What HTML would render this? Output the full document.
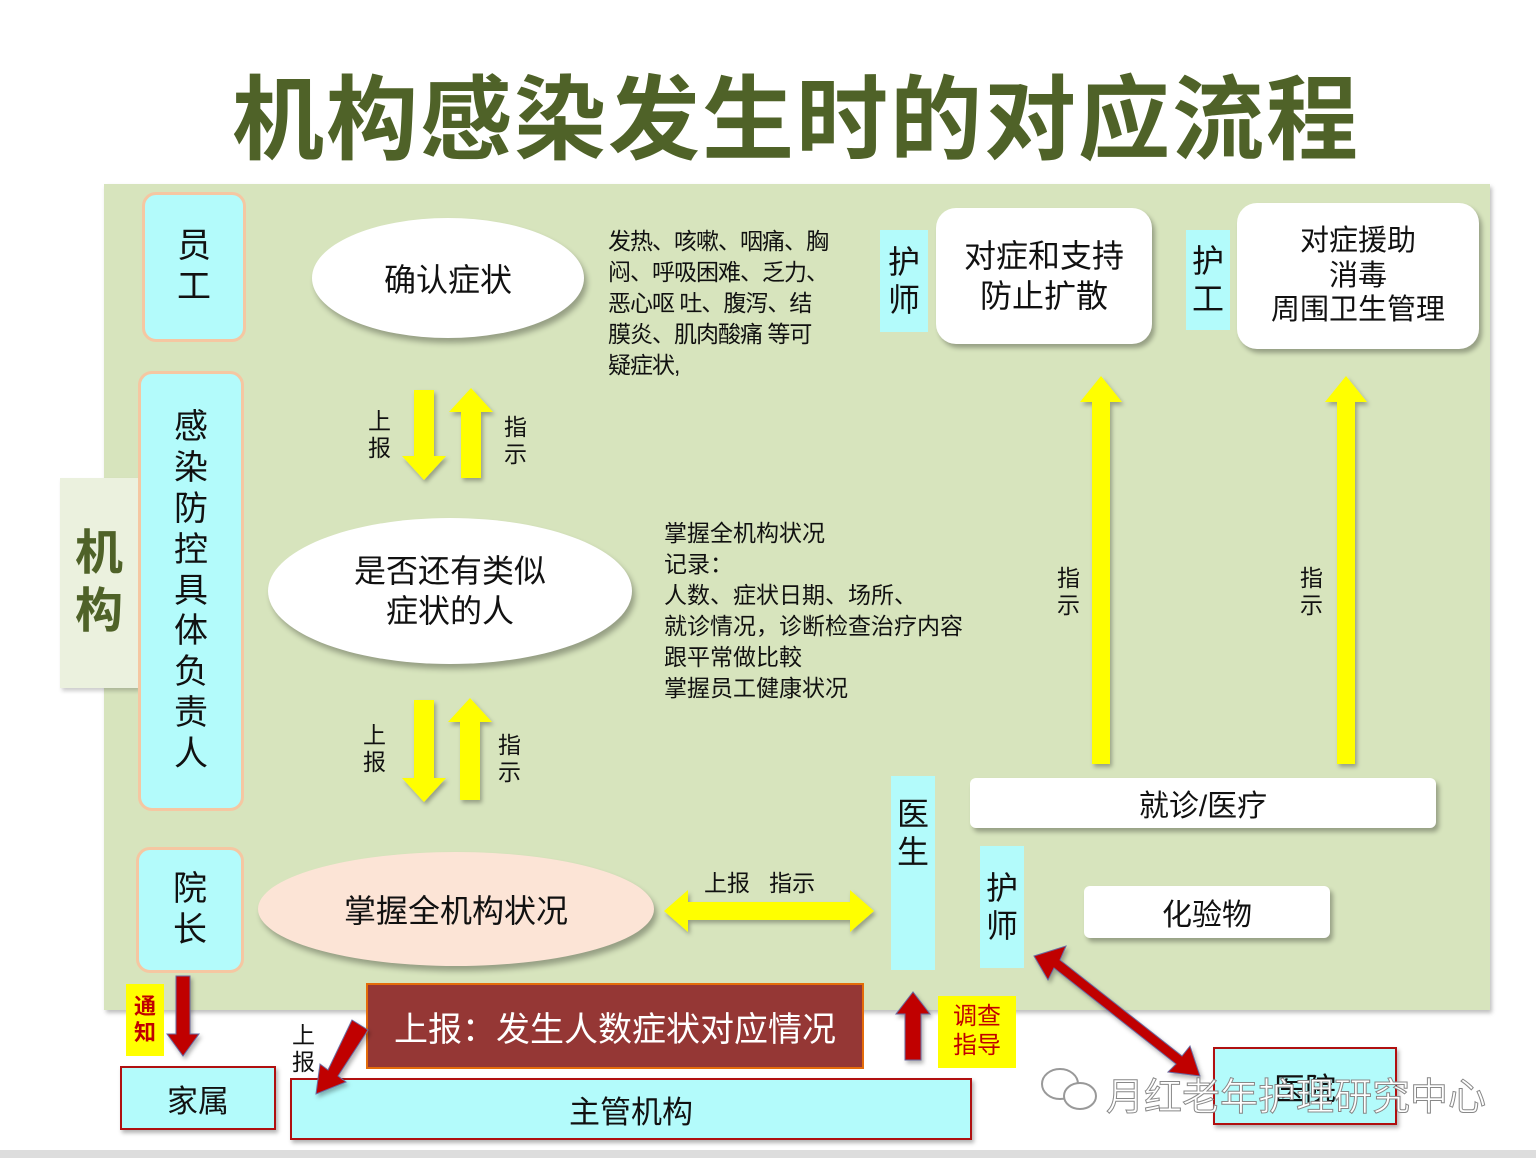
<!DOCTYPE html>
<html><head><meta charset="utf-8"><style>
*{margin:0;padding:0;box-sizing:border-box}
body{width:1536px;height:1158px;background:#fff;position:relative;overflow:hidden;font-family:"Liberation Sans","Noto Sans CJK SC",sans-serif;color:#111}
.a{position:absolute}
.c{display:flex;align-items:center;justify-content:center;text-align:center}
.cy{background:#b3fbfb}
.rb{border:3px solid #f5c7a2;border-radius:14px;background:#b3fbfb;font-size:34px;line-height:1.2}
.wb{background:#fff;border-radius:20px;box-shadow:3px 4px 5px rgba(0,0,0,.3)}
.el{border-radius:50%;box-shadow:3px 5px 6px rgba(0,0,0,.3)}
.red{border:2px solid #b01010;background:#b3fbfb;box-shadow:2px 3px 4px rgba(0,0,0,.3)}
</style></head><body>
<div class="a" style="left:0;top:1150px;width:1536px;height:8px;background:#ddd"></div>
<div class="a" style="left:232px;top:46px;font-size:92px;font-weight:bold;color:#4f6228;letter-spacing:2px;white-space:nowrap">机构感染发生时的对应流程</div>
<div class="a" style="left:104px;top:184px;width:1386px;height:826px;background:#d7e4bd;box-shadow:2px 3px 4px rgba(0,0,0,.25)"></div>
<div class="a c" style="left:60px;top:478px;width:78px;height:210px;background:#ebf1de;color:#4f6228;font-size:48px;font-weight:bold;line-height:1.2;box-shadow:2px 3px 4px rgba(0,0,0,.2)">机<br>构</div>
<div class="a c rb" style="left:142px;top:192px;width:104px;height:150px">员<br>工</div>
<div class="a c rb" style="left:138px;top:371px;width:106px;height:440px;line-height:1.2">感<br>染<br>防<br>控<br>具<br>体<br>负<br>责<br>人</div>
<div class="a c rb" style="left:136px;top:847px;width:108px;height:126px">院<br>长</div>
<div class="a c el" style="left:312px;top:218px;width:272px;height:120px;background:#fff;font-size:32px">确认症状</div>
<div class="a c el" style="left:268px;top:518px;width:364px;height:146px;background:#fff;font-size:32px;line-height:1.25">是否还有类似<br>症状的人</div>
<div class="a c el" style="left:258px;top:852px;width:396px;height:114px;background:#fce4d6;font-size:32px">掌握全机构状况</div>
<div class="a" style="left:608px;top:226px;font-size:23px;line-height:31px;white-space:nowrap;letter-spacing:-1px">发热、咳嗽、咽痛、胸<br>闷、呼吸困难、乏力、<br>恶心呕 吐、腹泻、结<br>膜炎、肌肉酸痛 等可<br>疑症状,</div>
<div class="a" style="left:664px;top:518px;font-size:23px;line-height:31px;white-space:nowrap">掌握全机构状况<br>记录：<br>人数、症状日期、场所、<br>就诊情况，诊断检查治疗内容<br>跟平常做比較<br>掌握员工健康状况</div>
<div class="a c cy" style="left:880px;top:230px;width:48px;height:102px;font-size:32px;line-height:1.2">护<br>师</div>
<div class="a c wb" style="left:936px;top:208px;width:216px;height:136px;font-size:32px;line-height:1.25">对症和支持<br>防止扩散</div>
<div class="a c cy" style="left:1186px;top:230px;width:44px;height:100px;font-size:32px;line-height:1.2">护<br>工</div>
<div class="a c wb" style="left:1237px;top:203px;width:242px;height:146px;font-size:29px;line-height:1.2">对症援助<br>消毒<br>周围卫生管理</div>
<div class="a c wb" style="left:970px;top:778px;width:466px;height:50px;border-radius:6px;font-size:30px">就诊/医疗</div>
<div class="a c wb" style="left:1084px;top:886px;width:246px;height:52px;border-radius:6px;font-size:30px">化验物</div>
<div class="a c cy" style="left:891px;top:776px;width:44px;height:194px;font-size:32px;line-height:1.2;padding-bottom:80px">医<br>生</div>
<div class="a c cy" style="left:980px;top:846px;width:44px;height:122px;font-size:32px;line-height:1.2">护<br>师</div>
<div class="a" style="left:704px;top:864px;font-size:23px;white-space:nowrap">上报&nbsp;&nbsp;&nbsp;指示</div>
<div class="a" style="left:368px;top:408px;font-size:23px;line-height:27px">上<br>报</div>
<div class="a" style="left:504px;top:414px;font-size:23px;line-height:27px">指<br>示</div>
<div class="a" style="left:363px;top:722px;font-size:23px;line-height:27px">上<br>报</div>
<div class="a" style="left:498px;top:732px;font-size:23px;line-height:27px">指<br>示</div>
<div class="a" style="left:1057px;top:565px;font-size:23px;line-height:27px">指<br>示</div>
<div class="a" style="left:1300px;top:565px;font-size:23px;line-height:27px">指<br>示</div>
<div class="a c" style="left:366px;top:983px;width:498px;height:86px;background:#953735;border:2px solid #e46c0a;color:#fff;font-size:34px">上报：发生人数症状对应情况</div>
<div class="a c" style="left:126px;top:984px;width:38px;height:72px;background:#ff0;color:#c00000;font-size:22px;font-weight:bold;line-height:1.2">通<br>知</div>
<div class="a c" style="left:938px;top:996px;width:78px;height:72px;background:#ff0;color:#c00000;font-size:24px;line-height:1.2">调查<br>指导</div>
<div class="a" style="left:292px;top:1022px;font-size:23px;line-height:27px">上<br>报</div>
<div class="a c red" style="left:120px;top:1066px;width:156px;height:64px;font-size:31px">家属</div>
<div class="a c red" style="left:290px;top:1078px;width:682px;height:62px;font-size:31px">主管机构</div>
<div class="a c red" style="left:1213px;top:1047px;width:184px;height:78px;font-size:31px">医院</div>
<svg class="a" style="left:0;top:0" width="1536" height="1158">
<defs><filter id="s"><feDropShadow dx="2" dy="3" stdDeviation="2" flood-opacity=".3"/></filter></defs>
<g fill="#ffff00" filter="url(#s)">
<polygon points="414,390 434,390 434,456 446,456 424,480 402,456 414,456"/>
<polygon points="461,478 481,478 481,412 493,412 471,388 449,412 461,412"/>
<polygon points="414,700 434,700 434,778 446,778 424,802 402,778 414,778"/>
<polygon points="460,800 480,800 480,722 492,722 470,698 448,722 460,722"/>
<polygon points="1092,764 1110,764 1110,402 1122,402 1101,376 1080,402 1092,402"/>
<polygon points="1337,764 1355,764 1355,402 1367,402 1346,376 1325,402 1337,402"/>
<polygon points="664,911 688,890 688,902 850,902 850,890 874,911 850,932 850,920 688,920 688,932"/>
</g>
<g fill="#c00000" stroke="#6a6aa0" stroke-width="1" filter="url(#s)">
<polygon points="176,976 190,976 190,1034 199,1034 183,1056 167,1034 176,1034"/>
<polygon points="905,1060 921,1060 921,1014 930,1014 913,992 896,1014 905,1014"/>
<polygon points="352,1020 368,1030 338,1076 346,1082 316,1094 320,1064 328,1070"/>
<polygon points="1034,956 1066,946 1060,960 1182,1056 1190,1046 1200,1076 1168,1072 1176,1064 1054,968 1048,980"/>
</g>
<g fill="none" stroke="#999" stroke-width="2"><ellipse cx="1060" cy="1084" rx="18" ry="15" fill="#fff"/><ellipse cx="1080" cy="1096" rx="16" ry="13" fill="#fff"/></g>
</svg>
<div class="a" style="left:1106px;top:1066px;font-size:38px;color:#fff;-webkit-text-stroke:1px #888;white-space:nowrap">月红老年护理研究中心</div>
</body></html>
